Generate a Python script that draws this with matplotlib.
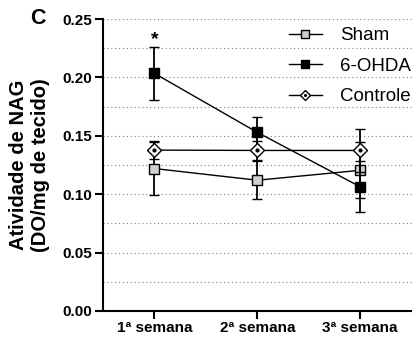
import numpy as np
import matplotlib.pyplot as plt

plt.rcParams['font.family'] = ['Liberation Sans', 'DejaVu Sans']

# Data
weeks = ['1ª semana', '2ª semana', '3ª semana']
sham = [0.122, 0.112, 0.1205]
sham_err = [0.023, 0.0165, 0.024]
ohda = [0.2035, 0.153, 0.1064]
ohda_err = [0.0228, 0.013, 0.022]
controle = [0.1378, 0.1375, 0.1375]
controle_err = [0.0075, 0.008, 0.0185]
y_ticks = [0.00, 0.05, 0.10, 0.15, 0.20, 0.25]

fig = plt.figure(figsize=(4.12, 3.41), dpi=100)
ax = fig.add_axes([0.25, 0.088, 0.749, 0.856])

x = np.arange(len(weeks))
eb_kw = dict(capsize=3.6, capthick=1.5, elinewidth=1.3, ecolor='black',
             color='black', linewidth=1.0, markersize=7.2,
             markeredgecolor='black', markeredgewidth=1.0, clip_on=False)

l_sham = ax.errorbar(x, sham, yerr=sham_err, marker='s',
                     markerfacecolor='#d0d0d0', zorder=3, **eb_kw)
l_ohda = ax.errorbar(x, ohda, yerr=ohda_err, marker='s',
                     markerfacecolor='black', zorder=4, **eb_kw)
l_ctrl = ax.errorbar(x, controle, yerr=controle_err, marker='D',
                     markerfacecolor='white', zorder=5,
                     **{**eb_kw, 'markersize': 6.8})
ax.plot(x, controle, 'o', color='black', markersize=2.0, zorder=6, clip_on=False)

# significance mark
ax.annotate('*', (x[0], ohda[0] + ohda_err[0]), xytext=(0, -1),
            textcoords='offset points', ha='center', va='bottom',
            fontsize=14, fontweight='bold')

ax.set_xlim(-0.5, 2.5)
ax.set_ylim(0, 0.25)
ax.set_yticks(y_ticks)
ax.set_yticklabels([f'{v:.2f}' for v in y_ticks])
ax.set_xticks(x)
ax.set_xticklabels(weeks)
for y in np.arange(0.025, 0.26, 0.025):
    ax.axhline(y, color='#808080', linestyle=(0, (1, 2.5)), linewidth=0.8, zorder=1)

for side in ['top', 'right']:
    ax.spines[side].set_visible(False)
for side in ['left', 'bottom']:
    ax.spines[side].set_linewidth(1.5)
ax.tick_params(axis='both', width=1.5, length=5.5, labelsize=11, pad=2)
for lbl in ax.get_xticklabels() + ax.get_yticklabels():
    lbl.set_fontweight('bold')

ax.set_ylabel('Atividade de NAG\n(DO/mg de tecido)', fontsize=14.5,
              fontweight='bold', labelpad=9, linespacing=1.2)

# legend
h_ctrl = (l_ctrl.lines[0],
          plt.Line2D([], [], marker='o', color='black', linestyle='none', markersize=1.6))
fig.legend([l_sham.lines[0], l_ohda.lines[0], h_ctrl], ['Sham', '6-OHDA', 'Controle'],
           loc='upper left', bbox_to_anchor=(289 / 412, 1 - 27 / 341), frameon=False,
           fontsize=13.5, handlelength=1.75, labelspacing=0.72, handletextpad=0.95,
           borderpad=0, borderaxespad=0, markerscale=0.75)

fig.text(37.5 / 412, 1 - 19 / 341, 'C', fontsize=15.5, fontweight='bold',
         ha='center', va='center')

fig.savefig('out.png', dpi=100)
